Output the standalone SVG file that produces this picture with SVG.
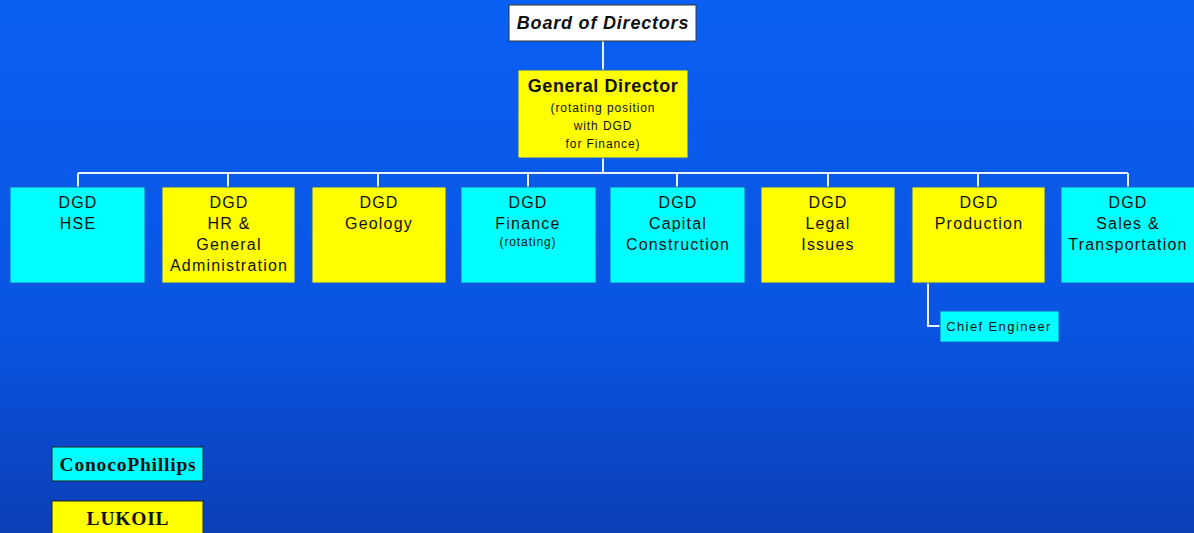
<svg xmlns="http://www.w3.org/2000/svg" width="1194" height="533" viewBox="0 0 1194 533">
<defs>
<linearGradient id="bg" x1="0" y1="0" x2="0" y2="1">
<stop offset="0" stop-color="#0A60F4"/>
<stop offset="0.6" stop-color="#0A55E2"/>
<stop offset="1" stop-color="#0B3FB8"/>
</linearGradient>
</defs>
<style>
.c{fill:#00FFFF;stroke:#1E5FC8;stroke-width:1}
.y{fill:#FFFF00;stroke:#1E5FC8;stroke-width:1}
.t{font-family:"Liberation Sans",Arial,sans-serif;font-size:16px;fill:#111;text-anchor:middle;letter-spacing:1.2px}
.s{font-family:"Liberation Sans",Arial,sans-serif;font-size:12px;fill:#111;text-anchor:middle;letter-spacing:0.9px}
.l{font-family:"Liberation Serif","Times New Roman",serif;font-size:19.5px;font-weight:bold;fill:#111;text-anchor:middle;letter-spacing:0.8px}
.ln{fill:none;stroke:#E6F2FF;stroke-width:2}
</style>
<rect width="1194" height="533" fill="url(#bg)"/>
<g id="connectors">
<path class="ln" d="M603 41V70M603 158V173M78 173H1128M78 173V187M228 173V187M378 173V187M528 173V187M677 173V187M828 173V187M978 173V187M1128 173V187M928 283V326H940"/>
</g>
<g id="board">
<rect x="509" y="5" width="187" height="36" fill="#FFFFFF" stroke="#333" stroke-width="1"/>
<text x="603" y="29" font-family="Liberation Sans,Arial,sans-serif" font-size="18" font-weight="bold" font-style="italic" fill="#111" text-anchor="middle" letter-spacing="0.8">Board of Directors</text>
</g>
<g id="general-director">
<rect class="y" x="518" y="70" width="170" height="88"/>
<text x="603" y="92" font-family="Liberation Sans,Arial,sans-serif" font-size="18" font-weight="bold" fill="#111" text-anchor="middle" letter-spacing="0.6">General Director</text>
<text class="s" x="603" y="112">(rotating position</text>
<text class="s" x="603" y="130">with DGD</text>
<text class="s" x="603" y="148">for Finance)</text>
</g>
<g id="hse">
<rect class="c" x="10" y="187" width="135" height="96"/>
<text class="t" x="78" y="208">DGD</text>
<text class="t" x="78" y="229">HSE</text>
</g>
<g id="hr">
<rect class="y" x="162" y="187" width="133" height="96"/>
<text class="t" x="229" y="208">DGD</text>
<text class="t" x="229" y="229">HR &amp;</text>
<text class="t" x="229" y="250">General</text>
<text class="t" x="229" y="271">Administration</text>
</g>
<g id="geology">
<rect class="y" x="312" y="187" width="134" height="96"/>
<text class="t" x="379" y="208">DGD</text>
<text class="t" x="379" y="229">Geology</text>
</g>
<g id="finance">
<rect class="c" x="461" y="187" width="135" height="96"/>
<text class="t" x="528" y="208">DGD</text>
<text class="t" x="528" y="229">Finance</text>
<text class="s" x="528" y="246">(rotating)</text>
</g>
<g id="capital">
<rect class="c" x="610" y="187" width="135" height="96"/>
<text class="t" x="678" y="208">DGD</text>
<text class="t" x="678" y="229">Capital</text>
<text class="t" x="678" y="250">Construction</text>
</g>
<g id="legal">
<rect class="y" x="761" y="187" width="134" height="96"/>
<text class="t" x="828" y="208">DGD</text>
<text class="t" x="828" y="229">Legal</text>
<text class="t" x="828" y="250">Issues</text>
</g>
<g id="production">
<rect class="y" x="912" y="187" width="133" height="96"/>
<text class="t" x="979" y="208">DGD</text>
<text class="t" x="979" y="229">Production</text>
</g>
<g id="sales">
<rect class="c" x="1061" y="187" width="140" height="96"/>
<text class="t" x="1128" y="208">DGD</text>
<text class="t" x="1128" y="229">Sales &amp;</text>
<text class="t" x="1128" y="250">Transportation</text>
</g>
<g id="chief-engineer">
<rect class="c" x="940" y="311" width="119" height="31"/>
<text x="999" y="331" font-family="Liberation Sans,Arial,sans-serif" font-size="13" fill="#111" text-anchor="middle" letter-spacing="1.4">Chief Engineer</text>
</g>
<g id="legend-conocophillips">
<rect x="52" y="447" width="151" height="34" fill="#00FFFF" stroke="#222" stroke-width="1"/>
<text class="l" x="128" y="471">ConocoPhillips</text>
</g>
<g id="legend-lukoil">
<rect x="52" y="501" width="151" height="40" fill="#FFFF00" stroke="#222" stroke-width="1"/>
<text class="l" x="128" y="525">LUKOIL</text>
</g>
</svg>
